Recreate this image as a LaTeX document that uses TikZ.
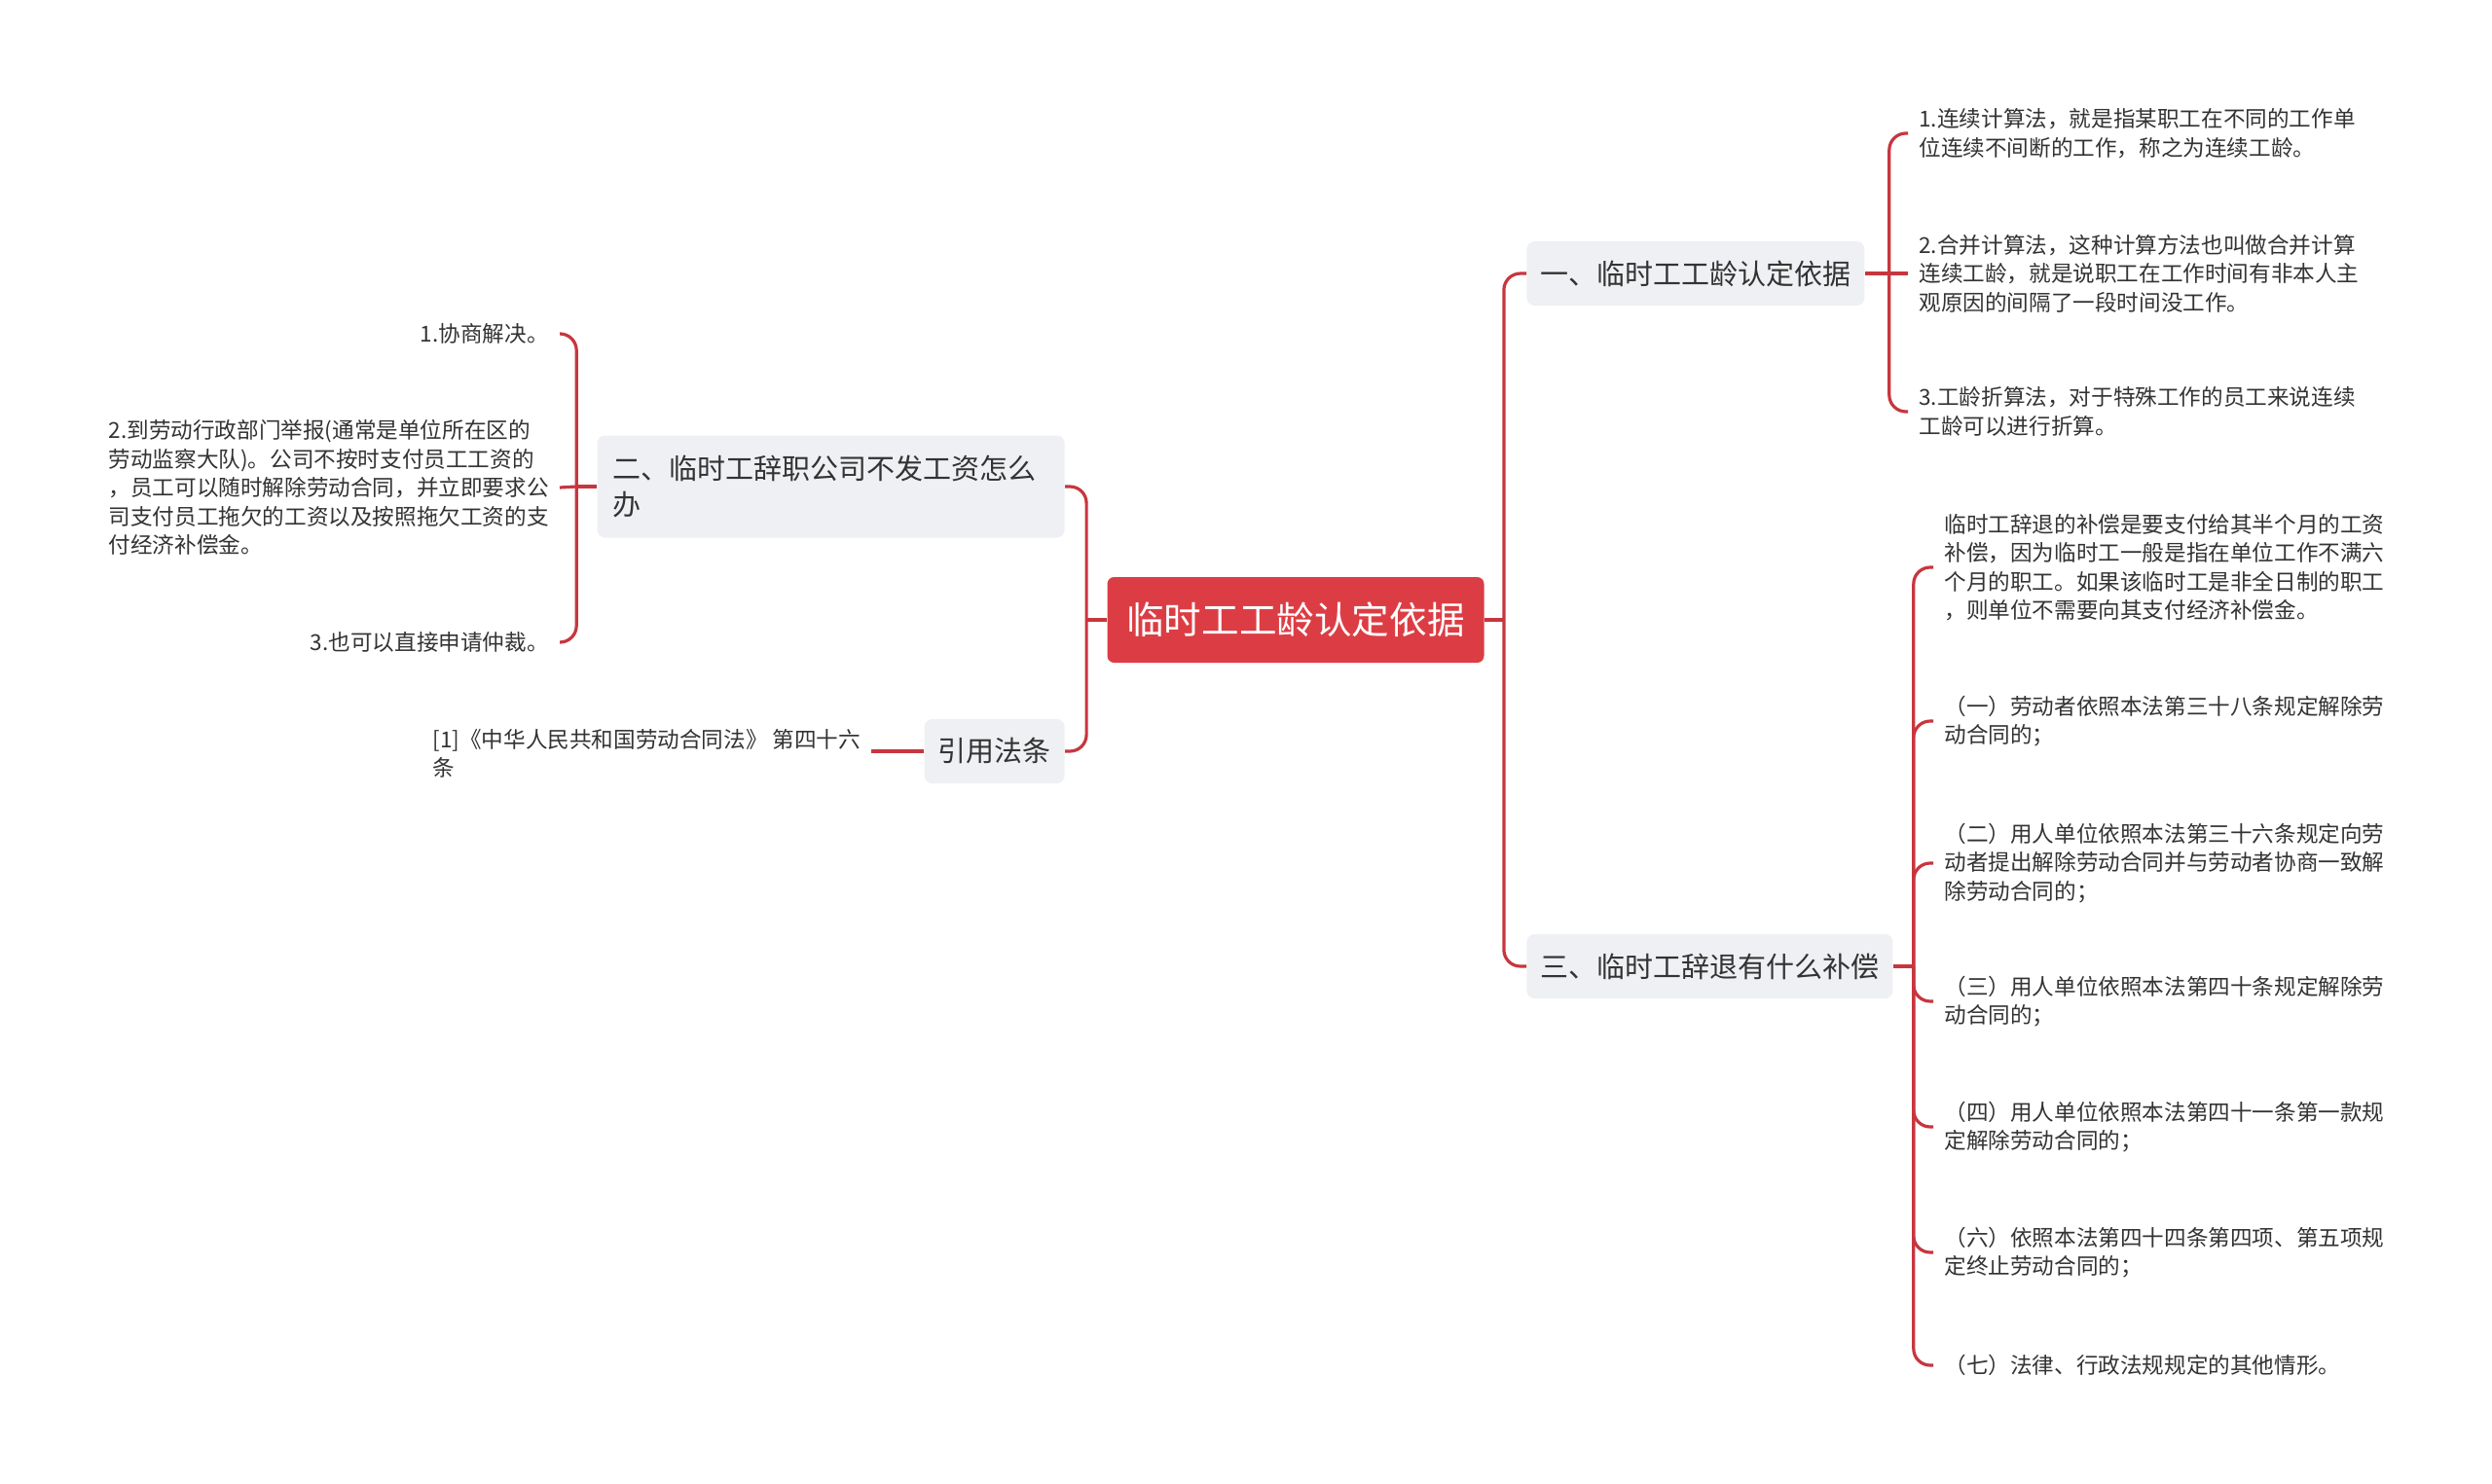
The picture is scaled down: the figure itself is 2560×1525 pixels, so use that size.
\documentclass[tikz,border=0pt]{standalone}
\usepackage{fontspec}
\setmainfont{Noto Sans CJK SC}

\definecolor{rootred}{HTML}{DC3D44}
\definecolor{linkred}{HTML}{C7363E}
\definecolor{boxgray}{HTML}{EEF0F3}
\definecolor{inkgray}{HTML}{333333}

\begin{document}
\begin{tikzpicture}[x=0.5pt,y=-0.5pt,
  root/.style={fill=rootred, text=white, rounded corners=3.5pt, minimum width=193.5pt,
    minimum height=44pt, font=\fontsize{19.3}{24}\selectfont},
  topic/.style={fill=boxgray, text=inkgray, rounded corners=4pt, inner xsep=7pt,
    minimum height=33pt, font=\fontsize{14.5}{18.8}\selectfont},
  leaf/.style={text=inkgray, align=left, inner xsep=5.5pt, inner ysep=2pt,
    font=\fontsize{11.3}{14.7}\selectfont},
  link/.style={draw=linkred, line width=1.6pt},
  elbow/.style={link, rounded corners=8.5pt}]

  % Page
  \path[fill=white, use as bounding box] (0,0) rectangle (2560,1525);

  % Root
  \node[root] (root) at (1331,637) {临时工工龄认定依据};

  % Topics
  \node[topic, anchor=west] (t1) at (1568,281) {一、临时工工龄认定依据};
  \node[topic, anchor=west] (t3) at (1568,993) {三、临时工辞退有什么补偿};
  \node[topic, anchor=east, text width=224pt, inner xsep=8pt, minimum height=52.5pt] (t2) at (1094,500)
    {二、临时工辞职公司不发工资怎么\\办};
  \node[topic, anchor=east] (t4) at (1094,772) {引用法条};

  % Leaves of topic one
  \node[leaf, anchor=west] (l11) at (1960,137)
    {1.连续计算法，就是指某职工在不同的工作单\\位连续不间断的工作，称之为连续工龄。};
  \node[leaf, anchor=west] (l12) at (1960,281)
    {2.合并计算法，这种计算方法也叫做合并计算\\连续工龄，就是说职工在工作时间有非本人主\\观原因的间隔了一段时间没工作。};
  \node[leaf, anchor=west] (l13) at (1960,423)
    {3.工龄折算法，对于特殊工作的员工来说连续\\工龄可以进行折算。};

  % Leaves of topic three
  \node[leaf, anchor=west] (l31) at (1986,583)
    {临时工辞退的补偿是要支付给其半个月的工资\\补偿，因为临时工一般是指在单位工作不满六\\个月的职工。如果该临时工是非全日制的职工\\，则单位不需要向其支付经济补偿金。};
  \node[leaf, anchor=west] (l32) at (1986,741)
    {（一）劳动者依照本法第三十八条规定解除劳\\动合同的；};
  \node[leaf, anchor=west] (l33) at (1986,887)
    {（二）用人单位依照本法第三十六条规定向劳\\动者提出解除劳动合同并与劳动者协商一致解\\除劳动合同的；};
  \node[leaf, anchor=west] (l34) at (1986,1029)
    {（三）用人单位依照本法第四十条规定解除劳\\动合同的；};
  \node[leaf, anchor=west] (l35) at (1986,1158)
    {（四）用人单位依照本法第四十一条第一款规\\定解除劳动合同的；};
  \node[leaf, anchor=west] (l36) at (1986,1287)
    {（六）依照本法第四十四条第四项、第五项规\\定终止劳动合同的；};
  \node[leaf, anchor=west] (l37) at (1986,1403)
    {（七）法律、行政法规规定的其他情形。};

  % Leaves of topic two
  \node[leaf, anchor=east] (l21) at (575,343) {1.协商解决。};
  \node[leaf, anchor=east] (l22) at (575,501)
    {2.到劳动行政部门举报(通常是单位所在区的\\劳动监察大队)。公司不按时支付员工工资的\\，员工可以随时解除劳动合同，并立即要求公\\司支付员工拖欠的工资以及按照拖欠工资的支\\付经济补偿金。};
  \node[leaf, anchor=east] (l23) at (575,660) {3.也可以直接申请仲裁。};

  % Leaf of the law topic
  \node[leaf, anchor=west] (l41) at (433,774)
    {[1]《中华人民共和国劳动合同法》 第四十六\\条};

  % Root to topics
  \draw[link] (root.east) -- ++(20,0) coordinate (jr);
  \draw[elbow] (jr) |- (t1.west);
  \draw[elbow] (jr) |- (t3.west);
  \draw[link] (root.west) -- ++(-21,0) coordinate (jl);
  \draw[elbow] (jl) |- (t2.east);
  \draw[elbow] (jl) |- (t4.east);

  % Topic one to leaves
  \draw[link] (t1.east) -- ++(25,0) coordinate (j1);
  \draw[elbow] (j1) |- (l11.west);
  \draw[link] (j1) -- (l12.west);
  \draw[elbow] (j1) |- (l13.west);

  % Topic three to leaves
  \draw[link] (t3.east) -- ++(21,0) coordinate (j3);
  \draw[elbow] (j3) |- (l31.west);
  \draw[elbow] (j3) |- (l32.west);
  \draw[elbow] (j3) |- (l33.west);
  \draw[elbow] (j3) |- (l34.west);
  \draw[elbow] (j3) |- (l35.west);
  \draw[elbow] (j3) |- (l36.west);
  \draw[elbow] (j3) |- (l37.west);

  % Topic two to leaves
  \draw[link] (t2.west) -- ++(-21,0) coordinate (j2);
  \draw[elbow] (j2) |- (l21.east);
  \draw[link] (j2) -- (l22.east);
  \draw[elbow] (j2) |- (l23.east);

  % Law topic to its leaf
  \draw[link] (t4.west) -- (l41.east |- t4.west);
\end{tikzpicture}
\end{document}
